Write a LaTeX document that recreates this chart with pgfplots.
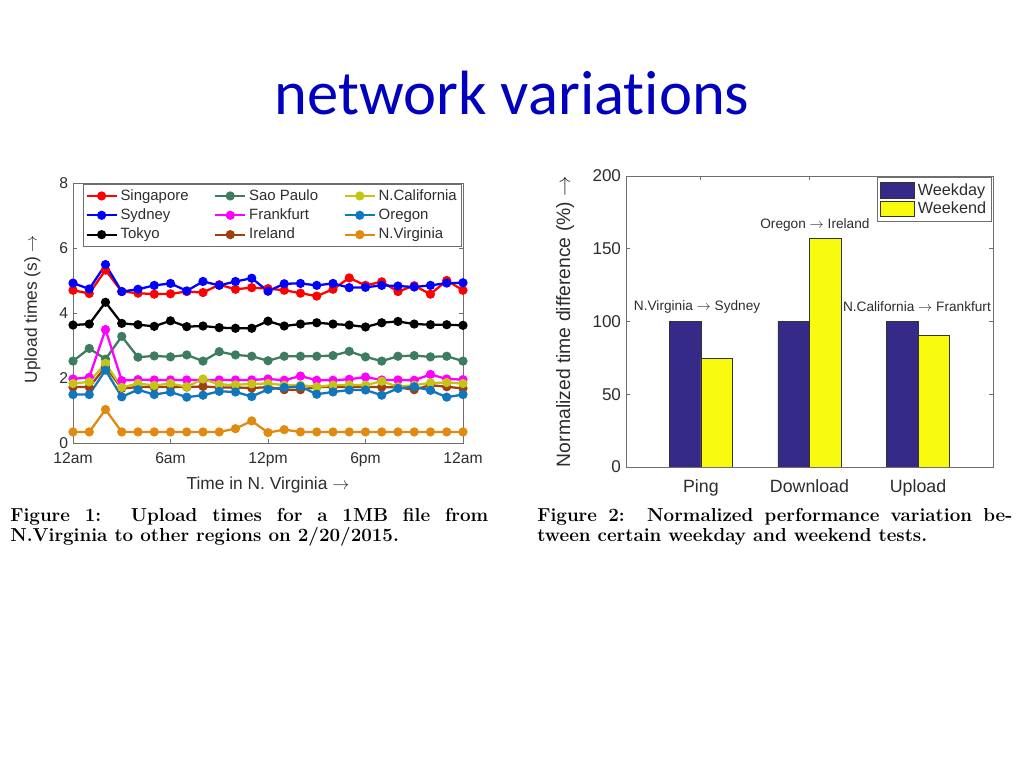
\documentclass[border=0pt]{standalone}
\usepackage{fontspec}
\usepackage{pgfplots}
\pgfplotsset{compat=1.18}
\newfontfamily\arial{Liberation Sans}
\newfontfamily\calibri[Ligatures=NoCommon]{Carlito}
\definecolor{titleblue}{RGB}{0,0,190}
\definecolor{axgray}{RGB}{110,110,110}
\definecolor{txtgray}{RGB}{45,45,45}
\definecolor{sgp}{RGB}{255,0,0}
\definecolor{syd}{RGB}{0,0,255}
\definecolor{tok}{RGB}{0,0,0}
\definecolor{sao}{RGB}{62,124,98}
\definecolor{fra}{RGB}{255,0,255}
\definecolor{ire}{RGB}{160,64,16}
\definecolor{nca}{RGB}{196,196,20}
\definecolor{ore}{RGB}{16,118,190}
\definecolor{nva}{RGB}{224,138,16}
\definecolor{wkday}{RGB}{53,42,135}
\definecolor{wkend}{RGB}{249,251,14}
\pgfplotstableread{
x sgp syd tok sao fra ire nca ore nva
0  4.70 4.92 3.63 2.52 1.97 1.72 1.83 1.49 0.34
1  4.60 4.74 3.66 2.91 2.02 1.72 1.88 1.49 0.34
2  5.32 5.49 4.33 2.58 3.49 2.34 2.45 2.24 1.03
3  4.66 4.66 3.68 3.28 1.92 1.68 1.71 1.42 0.34
4  4.61 4.73 3.64 2.64 1.95 1.72 1.83 1.64 0.34
5  4.58 4.85 3.59 2.68 1.94 1.72 1.77 1.49 0.34
6  4.59 4.91 3.76 2.65 1.94 1.72 1.83 1.57 0.34
7  4.66 4.68 3.58 2.71 1.94 1.72 1.73 1.41 0.34
8  4.63 4.97 3.60 2.52 1.94 1.74 1.97 1.47 0.34
9  4.87 4.85 3.55 2.81 1.94 1.71 1.80 1.59 0.34
10 4.73 4.97 3.53 2.71 1.94 1.71 1.79 1.57 0.44
11 4.78 5.07 3.53 2.67 1.94 1.69 1.82 1.43 0.68
12 4.75 4.67 3.75 2.53 1.97 1.72 1.83 1.65 0.32
13 4.70 4.90 3.60 2.67 1.93 1.64 1.78 1.71 0.41
14 4.61 4.91 3.66 2.67 2.06 1.64 1.78 1.74 0.34
15 4.52 4.85 3.70 2.67 1.93 1.72 1.73 1.50 0.34
16 4.73 4.91 3.66 2.69 1.93 1.72 1.78 1.57 0.34
17 5.08 4.78 3.63 2.82 1.96 1.72 1.79 1.63 0.34
18 4.85 4.79 3.57 2.65 2.03 1.72 1.78 1.63 0.34
19 4.96 4.85 3.70 2.52 1.94 1.72 1.90 1.47 0.34
20 4.66 4.83 3.74 2.67 1.94 1.71 1.73 1.68 0.34
21 4.84 4.80 3.66 2.69 1.93 1.64 1.78 1.73 0.34
22 4.58 4.85 3.64 2.65 2.11 1.78 1.85 1.62 0.34
23 5.00 4.92 3.64 2.67 1.97 1.73 1.86 1.41 0.34
24 4.70 4.93 3.62 2.52 1.95 1.68 1.83 1.49 0.34
}\uploadtimes
\begin{document}
\begin{tikzpicture}[x=0.703125pt,y=0.703125pt]
\path[fill=white] (0,0) rectangle (1024,768);
\node[anchor=base, text=titleblue, font=\calibri\fontsize{44}{50}\selectfont, inner sep=0] at (512,653) {network variations};
% ---------- left chart
\begin{axis}[
  at={(51.33pt,228.52pt)}, anchor=south west,
  scale only axis, width=274.2pt, height=182.8pt,
  xmin=0, xmax=24, ymin=0, ymax=8,
  xtick={0,6,12,18,24}, xticklabels={12am,6am,12pm,6pm,12am},
  ytick={0,2,4,6,8},
  tick align=inside, major tick length=3pt,
  axis line style={draw=axgray, line width=0.6pt}, tick style={draw=axgray, line width=0.6pt},
  /pgf/number format/assume math mode=true,
  ticklabel style={font=\arial\fontsize{11}{13}\selectfont, text=txtgray},
  xticklabel style={yshift=-3.5pt},
  xlabel={Time in N. Virginia $\rightarrow$},
  ylabel={Upload times (s) $\rightarrow$},
  label style={font=\arial\fontsize{12.2}{14}\selectfont, text=txtgray},
  xlabel style={at={(axis description cs:0.5,-0.1635)}, anchor=center},
  ylabel style={at={(axis description cs:-0.104,0.515)}, anchor=center},
  every axis plot/.append style={line width=1.6pt, mark=*, mark size=2.4pt, mark options={solid}},
  legend columns=3, transpose legend,
  legend cell align=left,
  legend style={at={(0.0256,0.996)}, anchor=north west, draw=axgray, line width=0.6pt,
    font=\arial\fontsize{10.5}{12}\selectfont, text=txtgray, inner sep=1.5pt,
    row sep=0.5pt,
    /tikz/every even column/.append style={column sep=16pt}},
  legend image code/.code={\draw[mark repeat=2,mark phase=2] plot coordinates {(0pt,0pt) (10.5pt,0pt) (21pt,0pt)};},
]
\addplot[color=sgp] table[x=x,y=sgp] {\uploadtimes};
\addlegendentry{Singapore}
\addplot[color=syd] table[x=x,y=syd] {\uploadtimes};
\addlegendentry{Sydney}
\addplot[color=tok] table[x=x,y=tok] {\uploadtimes};
\addlegendentry{Tokyo}
\addplot[color=sao] table[x=x,y=sao] {\uploadtimes};
\addlegendentry{Sao Paulo}
\addplot[color=fra] table[x=x,y=fra] {\uploadtimes};
\addlegendentry{Frankfurt}
\addplot[color=ire] table[x=x,y=ire] {\uploadtimes};
\addlegendentry{Ireland}
\addplot[color=nca] table[x=x,y=nca] {\uploadtimes};
\addlegendentry{N.California}
\addplot[color=ore] table[x=x,y=ore] {\uploadtimes};
\addlegendentry{Oregon}
\addplot[color=nva] table[x=x,y=nva] {\uploadtimes};
\addlegendentry{N.Virginia}
\end{axis}
% ---------- right chart
\begin{axis}[
  at={(440.16pt,211.64pt)}, anchor=south west,
  scale only axis, width=258.0pt, height=204.6pt,
  xmin=0.31, xmax=3.69, ymin=0, ymax=200,
  xtick={1,2,3}, xticklabels={Ping,Download,Upload},
  ytick={0,50,100,150,200},
  tick align=inside, major tick length=3pt,
  axis line style={draw=axgray, line width=0.6pt}, tick style={draw=axgray, line width=0.6pt},
  /pgf/number format/assume math mode=true,
  yticklabel style={font=\arial\fontsize{12}{14}\selectfont, text=txtgray},
  xticklabel style={font=\arial\fontsize{12.5}{14}\selectfont, text=txtgray, yshift=-5.5pt},
  ylabel={Normalized time difference (\%) $\rightarrow$},
  ylabel style={font=\arial\fontsize{13.6}{15}\selectfont, text=txtgray, at={(axis description cs:-0.166,0.5)}, anchor=center},
  bar width=0.29,
  legend cell align=left,
  legend style={at={(0.998,0.996)}, anchor=north east, draw=axgray, line width=0.6pt,
    font=\arial\fontsize{11.4}{13}\selectfont, text=txtgray, inner sep=2pt, row sep=-0.5pt},
  legend image code/.code={\draw[#1,line width=0.6pt] (0pt,-5.5pt) rectangle (24pt,5.5pt);},
]
\addplot[ybar, bar shift=-0.145, fill=wkday, draw=black!80, line width=0.5pt] coordinates {(1,100) (2,100) (3,100)};
\addlegendentry{Weekday}
\addplot[ybar, bar shift=0.145, fill=wkend, draw=black!80, line width=0.5pt] coordinates {(1,74.5) (2,157) (3,90.5)};
\addlegendentry{Weekend}
\node[font=\arial\fontsize{9.6}{11}\selectfont, text=txtgray] at (axis cs:0.965,110) {N.Virginia $\rightarrow$ Sydney};
\node[font=\arial\fontsize{9.6}{11}\selectfont, text=txtgray] at (axis cs:2.05,166.5) {Oregon $\rightarrow$ Ireland};
\node[font=\arial\fontsize{9.6}{11}\selectfont, text=txtgray] at (axis cs:2.99,110) {N.California $\rightarrow$ Frankfurt};
\end{axis}
% ---------- captions
\node[anchor=north west, inner sep=0pt, text width=336.1pt, align=justify,
  font=\fontsize{13.2}{14.06}\bfseries\selectfont] at (10,260)
  {Figure 1:\ \ Upload times for a 1MB file from\linebreak N.Virginia to other regions on 2/20/2015.};
\node[anchor=north west, inner sep=0pt, text width=334pt, align=justify,
  font=\fontsize{13.2}{14.06}\bfseries\selectfont] at (537,260)
  {Figure 2:\ \ Normalized performance variation be-\linebreak tween certain weekday and weekend tests.};
\end{tikzpicture}
\end{document}
